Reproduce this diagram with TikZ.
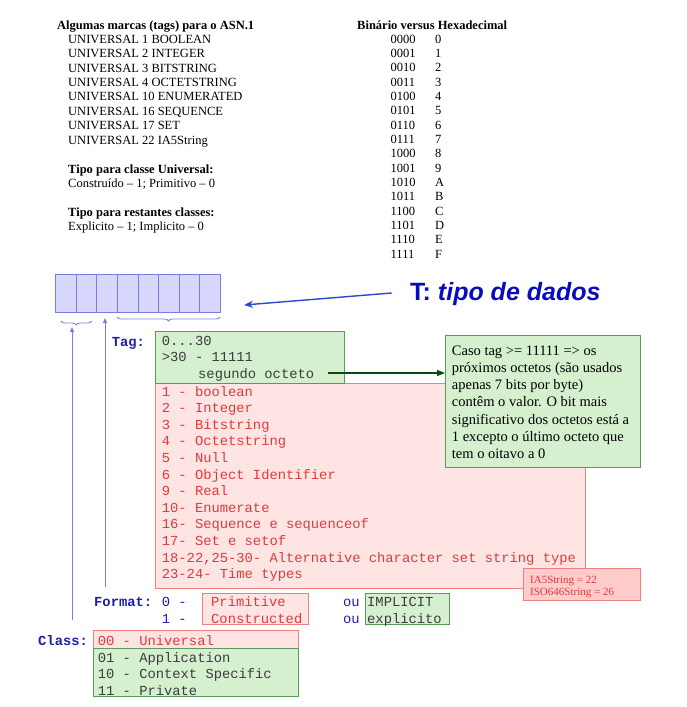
\documentclass[tikz,border=0pt]{standalone}
\usepackage{fontspec}
\setmainfont{Liberation Serif}
\setsansfont{Liberation Sans}
\setmonofont{Liberation Mono}
\usetikzlibrary{decorations.pathreplacing,arrows.meta}
\definecolor{bitfill}{HTML}{D8D8FF}
\definecolor{bitline}{HTML}{7C7CE0}
\definecolor{lblue}{HTML}{1C1CB4}
\definecolor{tblue}{HTML}{0A0AC0}
\definecolor{arblue}{HTML}{2A48D0}
\definecolor{gfill}{HTML}{D4F0CF}
\definecolor{gline}{HTML}{5A9A5A}
\definecolor{rfill}{HTML}{FFE4E4}
\definecolor{rline}{HTML}{F08080}
\definecolor{rtext}{HTML}{E03A3A}
\definecolor{dgreen}{HTML}{0A4A0A}
\definecolor{pfill}{HTML}{FFCCCC}
\definecolor{gtext}{HTML}{3C3C3C}
\begin{document}
\begin{tikzpicture}[x=1pt,y=-1pt,
  txt/.style={anchor=base west, inner sep=0pt, font=\fontsize{12.5}{14}\selectfont},
  btxt/.style={txt, font=\fontsize{12.5}{14}\selectfont\bfseries},
  mono/.style={anchor=base west, inner sep=0pt, font=\fontsize{13.8}{16}\ttfamily},
  lbl/.style={mono, font=\fontsize{13.8}{16}\ttfamily\bfseries, text=lblue},
  rmono/.style={mono, text=rtext},
  gmono/.style={mono, text=gtext},
  note/.style={txt, font=\fontsize{14.5}{17}\selectfont},
  small/.style={txt, font=\fontsize{11}{12}\selectfont, text=rtext},
  bitcell/.style={draw=bitline, fill=bitfill, anchor=north west, minimum width=20.625pt, minimum height=37.5pt, inner sep=0pt},
  gbox/.style={draw=gline, fill=gfill, anchor=north west, inner sep=0pt},
  rbox/.style={draw=rline, fill=rfill, anchor=north west, inner sep=0pt},
  pbox/.style={draw=rline, fill=pfill, anchor=north west, inner sep=0pt},
  uparrow/.style={draw=bitline, line width=0.9pt, -{Triangle[length=5pt,width=4pt]}},
  bracestyle/.style={draw=bitline, line width=0.8pt, decorate, decoration={brace, mirror, amplitude=4pt}}
]
\useasboundingbox (0,0) rectangle (687,707);
% ---- top-left list
\node[btxt] (t1) at (57,29.5) {Algumas marcas (tags) para o ASN.1};
\foreach \s [count=\k from 0] in {UNIVERSAL 1 BOOLEAN,UNIVERSAL 2 INTEGER,UNIVERSAL 3 BITSTRING,UNIVERSAL 4 OCTETSTRING,UNIVERSAL 10 ENUMERATED,UNIVERSAL 16 SEQUENCE,UNIVERSAL 17 SET,UNIVERSAL 22 IA5String}
  \node[txt] (u\k) at (68,43.3+14.4*\k) {\s};
\node[btxt] (t2) at (68,173) {Tipo para classe Universal:};
\node[txt] (t3) at (68,187.5) {Construído – 1; Primitivo – 0};
\node[btxt] (t4) at (68,216) {Tipo para restantes classes:};
\node[txt] (t5) at (68,230.5) {Explicito – 1; Implicito – 0};
% ---- binary table
\node[btxt] (bh) at (357,29.5) {Binário versus Hexadecimal};
\foreach \b/\h [count=\k from 0] in {0000/0,0001/1,0010/2,0011/3,0100/4,0101/5,0110/6,0111/7,1000/8,1001/9,1010/A,1011/B,1100/C,1101/D,1110/E,1111/F}{
  \node[txt] (bb\k) at (390.5,43.2+14.33*\k) {\b};
  \node[txt] (hh\k) at (435,43.2+14.33*\k) {\h};
}
% ---- bit cells
\foreach \i in {0,...,7}
  \node[bitcell] (c\i) at (55+20.625*\i,274) {};
\draw[bracestyle] (60.7,321) -- (91.7,321);
\draw[bracestyle] (117,317) -- (220,317);
\coordinate (a1s) at (72,620);
\coordinate (a1t) at (72,327);
\coordinate (a2s) at (105,587);
\coordinate (a2t) at (105,318);
\draw[uparrow] (a1s) -- (a1t);
\draw[uparrow] (a2s) -- (a2t);
% ---- T title
\node[anchor=base west, inner sep=0pt, text=tblue, font=\fontsize{25}{28}\sffamily\bfseries] (T) at (410,300) {T: \textit{tipo de dados}};
\coordinate (Ts) at (391.7,293);
\coordinate (Tt) at (244,305);
\draw[draw=arblue, line width=1.4pt, -{Stealth[length=9pt,width=7pt]}] (Ts) -- (Tt);
% ---- red box (types)
\node[rbox, minimum width=430pt, minimum height=205pt] (red) at (155,383) {};
\foreach \s [count=\k from 0] in {1 - boolean,2 - Integer,3 - Bitstring,4 - Octetstring,5 - Null,6 - Object Identifier,9 - Real,10- Enumerate,16- Sequence e sequenceof,17- Set e setof,{18-22,25-30- Alternative character set string type},23-24- Time types}
  \node[rmono] (r\k) at (161.7,396+16.6*\k) {\s};
% ---- tag green box
\node[lbl] (tag) at (111.7,346) {Tag:};
\node[gbox, minimum width=189pt, minimum height=52pt] (tagbox) at (155,331) {};
\node[gmono] (g1) at (161.7,345.5) {0...30};
\node[gmono] (g2) at (161.7,361.7) {>30 - 11111};
\node[gmono] (g3) at (198,378) {segundo octeto};
% ---- note box
\node[gbox, minimum width=195pt, minimum height=132pt] (note) at (445,335) {};
\foreach \s [count=\k from 0] in {Caso tag >= 11111 => os,próximos octetos (são usados,apenas 7 bits por byte),contêm o valor. O bit mais,significativo dos octetos está a,1 excepto o último octeto que,tem o oitavo a 0}
  \node[note] (n\k) at (451.7,355+17.3*\k) {\s};
\coordinate (ga) at (328,373);
\draw[draw=dgreen, line width=1.3pt, -{Triangle[length=8pt,width=6pt]}] (ga) -- (note.west |- ga);
% ---- IA5 box
\node[pbox, minimum width=117pt, minimum height=32pt] (ia5) at (523,568) {};
\node[small] (i1) at (530,583) {IA5String = 22};
\node[small] (i2) at (530,595.5) {ISO646String = 26};
% ---- Format
\node[lbl] (fmt) at (94,606.7) {Format:};
\node[mono, text=lblue] (f0) at (161.7,606.7) {0 -};
\node[mono, text=lblue] (f1) at (161.7,623) {1 -};
\node[rbox, minimum width=105.7pt, minimum height=31pt] (fbox) at (202,593) {};
\node[rmono] (fp) at (211,606.7) {Primitive};
\node[rmono] (fc) at (211,623) {Constructed};
\node[mono, text=lblue] (ou1) at (343,606.7) {ou};
\node[mono, text=lblue] (ou2) at (343,623) {ou};
\node[gbox, minimum width=84pt, minimum height=31pt] (ibox) at (365,593) {};
\node[gmono] (im) at (367,606.7) {IMPLICIT};
\node[gmono] (ex) at (367,623) {explicito};
% ---- Class
\node[lbl] (cls) at (38,645.7) {Class:};
\node[rbox, minimum width=205pt, minimum height=18pt] (cu) at (92.7,630) {};
\node[rmono] (c00) at (97.7,645) {00 - Universal};
\node[gbox, minimum width=205pt, minimum height=48pt] (cg) at (92.7,648) {};
\node[gmono] (c01) at (97.7,662) {01 - Application};
\node[gmono] (c10) at (97.7,678.7) {10 - Context Specific};
\begin{scope}
\clip (92.7,648) rectangle (297.7,696);
\node[gmono] (c11) at (97.7,695.4) {11 - Private};
\end{scope}
\end{tikzpicture}
\end{document}
